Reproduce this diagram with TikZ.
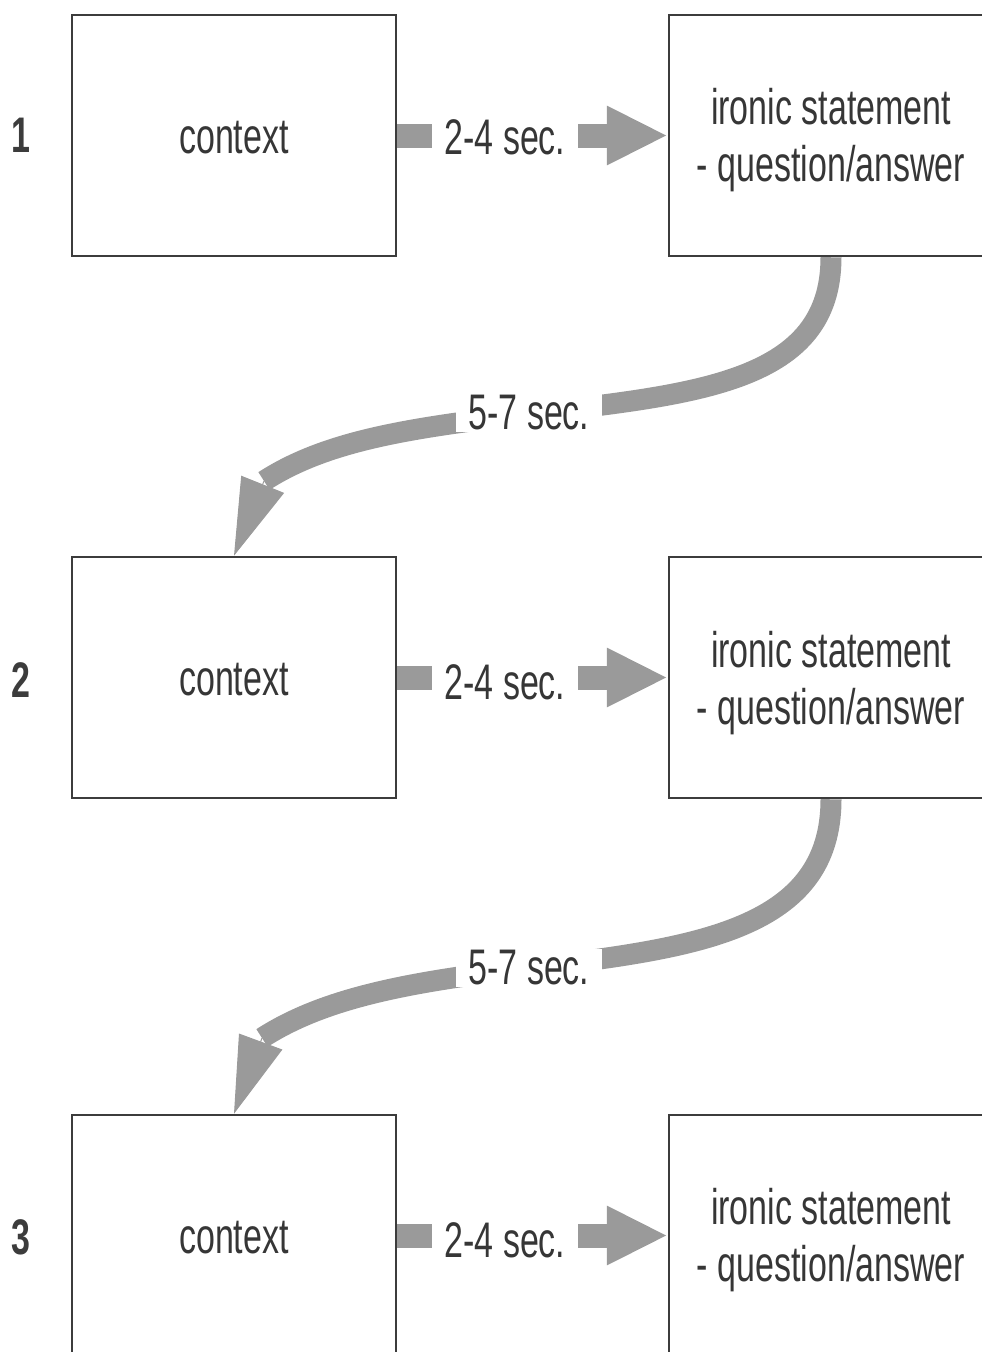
\documentclass[tikz,border=0pt]{standalone}
\usepackage{fontspec}
\setmainfont{Liberation Sans}[FakeStretch=0.68]
\usetikzlibrary{arrows.meta,calc}
\definecolor{agray}{HTML}{9A9A9A}
\definecolor{bcol}{HTML}{3C3C3C}
\definecolor{tcol}{HTML}{363636}
\begin{document}
\begin{tikzpicture}[x=1pt,y=-1pt,
  bigfont/.style={font=\fontsize{50}{57}\selectfont},
  box/.style={draw=bcol,line width=2.5pt,minimum width=324pt,minimum height=241pt,
    inner sep=0pt},
  boxtext/.style={text=tcol,align=center,bigfont,inner sep=0pt},
  num/.style={text=bcol,font=\fontsize{50}{57}\selectfont\bfseries},
  lab/.style={fill=white,inner xsep=13pt,inner ysep=2pt,text=tcol,bigfont},
  harrow/.style={draw=agray,line width=24pt,-{Triangle[length=61pt,width=55pt]}},
  cshaft/.style={draw=agray,line width=21pt},
  chead/.style={draw=agray,line width=1pt,-{Triangle[length=77pt,width=46pt]}}]
\path[use as bounding box,clip] (0,0) rectangle (982,1352);

% row numbers
\node[num] (n1) at (21,135) {1};
\node[num] (n2) at (21,680) {2};
\node[num] (n3) at (21,1237) {3};

% boxes
\node[box,label={[boxtext,yshift=-2pt]center:context}] (c1) at (234,135.5) {};
\node[box,label={[boxtext,yshift=-5pt]center:ironic statement\\- question/answer}] (r1) at (831,135.5) {};
\node[box,label={[boxtext,yshift=-2pt]center:context}] (c2) at (234,677.5) {};
\node[box,label={[boxtext,yshift=-6pt]center:ironic statement\\- question/answer}] (r2) at (831,677.5) {};
\node[box,label={[boxtext,yshift=-2pt]center:context}] (c3) at (234,1235.5) {};
\node[box,label={[boxtext,yshift=-5pt]center:ironic statement\\- question/answer}] (r3) at (831,1235.5) {};

% named points of the curved connectors
\coordinate (m1) at (528,414);
\coordinate (hb1) at (264,481);
\coordinate (m2) at (528,968);
\coordinate (hb2) at (262,1038);

% straight connectors
\draw[harrow] (c1) -- (r1);
\draw[harrow] (c2) -- (r2);
\draw[harrow] (c3) -- (r3);

% curved connectors
\draw[cshaft] (r1.south) .. controls +(0,125) and +(170,-20) .. (m1)
  .. controls +(-120,14) and +(62,-40) .. (hb1);
\draw[chead] (hb1) -- (c2.north);
\draw[cshaft] (r2.south) .. controls +(0,130) and +(170,-20) .. (m2)
  .. controls +(-120,14) and +(62,-40) .. (hb2);
\draw[chead] (hb2) -- (c3.north);

% labels
\node[lab] (l1) at (505,137) {2-4 sec.};
\node[lab] (l2) at (505,682) {2-4 sec.};
\node[lab] (l3) at (505,1240) {2-4 sec.};
\node[lab] (k1) at (529,413) {5-7 sec.};
\node[lab] (k2) at (529,968) {5-7 sec.};
\end{tikzpicture}
\end{document}
